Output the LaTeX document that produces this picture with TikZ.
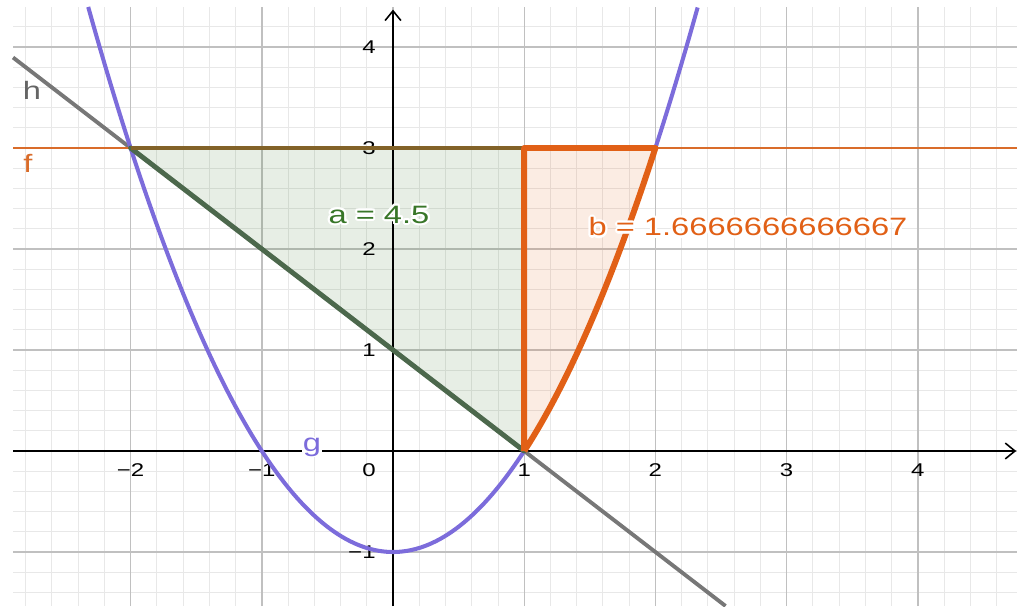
\documentclass[tikz,border=0pt]{standalone}
\usepackage{fontspec}
\setmainfont{Liberation Sans}
\usepackage{graphicx}
\usepackage{contour}
\contourlength{1.2pt}
\usetikzlibrary{arrows.meta}
\definecolor{gridmajor}{RGB}{192,192,192}
\definecolor{gridminor}{RGB}{232,232,232}
\definecolor{gcol}{RGB}{124,108,219}
\definecolor{hcol}{RGB}{119,119,119}
\definecolor{fcol}{RGB}{217,108,42}
\definecolor{acol}{RGB}{56,118,40}
\definecolor{aedge}{RGB}{76,104,76}
\definecolor{atop}{RGB}{130,98,40}
\definecolor{bcol}{RGB}{225,96,22}
\newcommand{\wide}[1]{\scalebox{1.3}[1]{#1}}

\begin{document}
\begin{tikzpicture}[xscale=2.624, yscale=2.02, >={Straight Barb[length=5.5pt,width=9pt]},
	minorgrid/.style={draw=gridminor, line width=0.5pt},
	majorgrid/.style={draw=gridmajor, line width=0.8pt},
	ticklabel/.style={font=\fontsize{10.5}{12}\selectfont, inner sep=0pt},
	curvelabel/.style={font=\fontsize{14.3}{17}\selectfont, inner sep=0pt}]
		\useasboundingbox (-2.9954,-1.5347) rectangle (4.8552,4.4653);
		% grid
		\foreach \i in {-14,...,23} \draw[minorgrid] (\i/5,-1.5347) -- (\i/5,4.396);
		\foreach \j in {-7,...,21} \draw[minorgrid] (-2.896,\j/5) -- (4.757,\j/5);
		\foreach \i in {-2,...,4} \draw[majorgrid] (\i,-1.5347) -- (\i,4.396);
		\foreach \j in {-1,...,4} \draw[majorgrid] (-2.896,\j) -- (4.757,\j);
		% regions a and b
		\fill[acol, fill opacity=0.12] (-2,3) -- (1,3) -- (1,0) -- cycle;
		\fill[bcol, fill opacity=0.12] (1,0) -- (1,3) -- (2,3) -- plot[domain=2:1, samples=40] (\x, {\x*\x-1}) -- cycle;
		% axes
		\draw[->, line width=0.9pt] (-2.896,0) -- (4.75,0);
		\draw[->, line width=0.9pt] (0,-1.5347) -- (0,4.37);
		\foreach \x/\t in {-2/−2, -1/−1, 1/1, 2/2, 3/3, 4/4}
			\node[ticklabel] (xtick\x) at (\x,-0.188) {\wide{\t}};
		\node[ticklabel] (origin) at (-0.183,-0.188) {\wide{0}};
		\foreach \y/\t in {-1/−1, 1/1, 2/2, 3/3, 4/4}
			\node[ticklabel, anchor=east] (ytick\y) at (-0.13,\y) {\wide{\t}};
		% h, g, f
		\draw[hcol, line width=2.2pt] (-2.896,3.896) -- (2.5347,-1.5347);
		\draw[gcol, line width=2.3pt, domain=-2.323:2.323, samples=150] plot (\x, {\x*\x-1});
		\draw[fcol, line width=1.7pt] (-2.896,3) -- (4.757,3);
		% borders of the regions
		\draw[aedge, line width=2.8pt, line cap=round] (-2,3) -- (1,0);
		\draw[atop, line width=2.2pt] (-2,3) -- (1,3);
		\draw[bcol, line width=3.4pt, line join=round] (1,0) -- (1,3) -- (2,3) -- plot[domain=2:1, samples=40] (\x, {\x*\x-1});
		% labels
		\node[curvelabel, text=hcol!85!black] (hlab) at (-2.752,3.57) {\wide{h}};
		\node[curvelabel, text=fcol] (flab) at (-2.782,2.85) {\wide{f}};
		\node[curvelabel, text=gcol, fill=white, inner sep=0.6pt] (glab) at (-0.617,0.04) {\wide{g}};
		\node[curvelabel, text=acol] (alab) at (-0.107,2.327) {\contour{white}{\wide{a = 4.5}}};
		\node[curvelabel, text=bcol] (blab) at (2.706,2.208) {\contour{white}{\wide{b = 1.6666666666667}}};
\end{tikzpicture}
\end{document}
